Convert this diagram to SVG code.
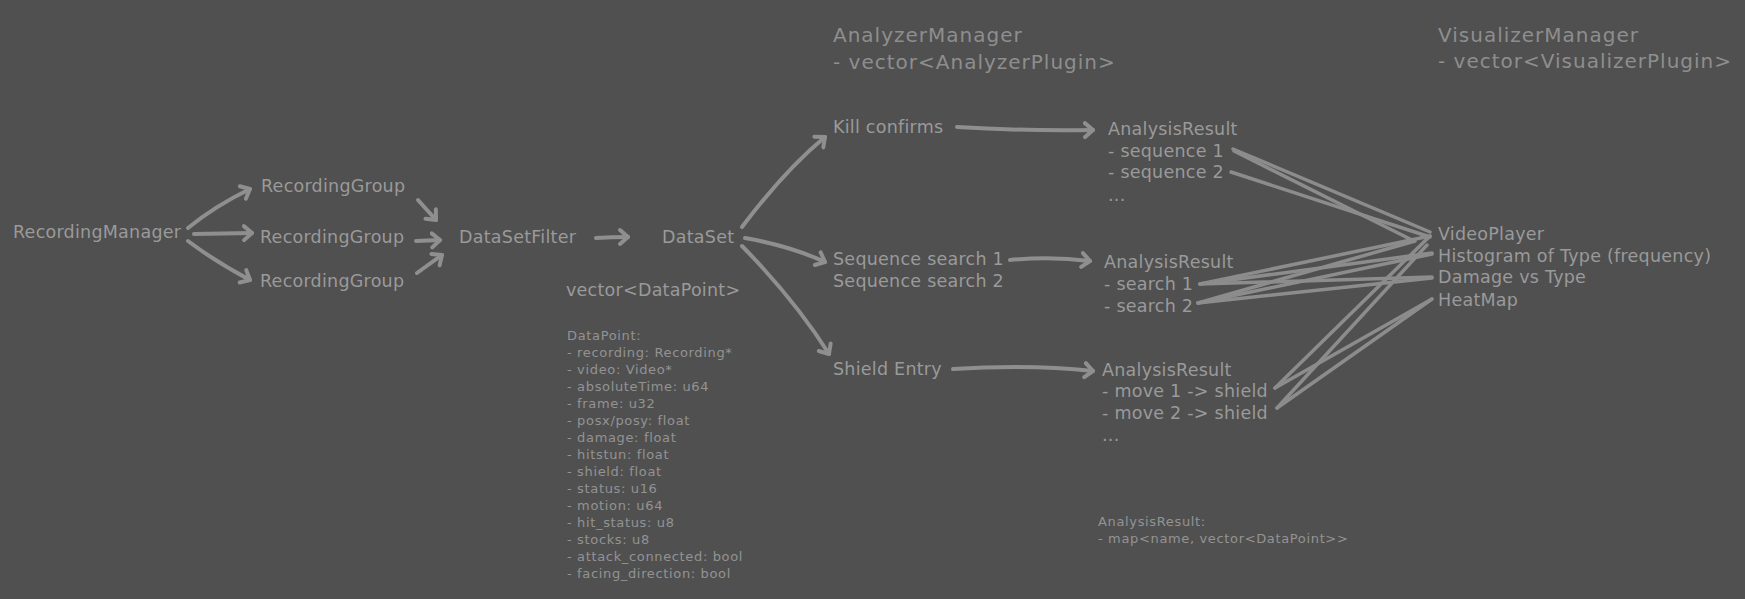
<svg xmlns="http://www.w3.org/2000/svg" width="1745" height="599" viewBox="0 0 1745 599">
<defs>
<marker id="ah" markerUnits="userSpaceOnUse" markerWidth="20" markerHeight="20" refX="10" refY="10" orient="auto" viewBox="0 0 20 20">
<path d="M2,3 L10,10 L2,17" fill="none" stroke="#8f8f8f" stroke-width="4" stroke-linecap="round" stroke-linejoin="round"/>
</marker>
<style>
text{font-family:"DejaVu Sans","Verdana",sans-serif;fill:#9a9a9a}
.n{font-size:17.5px;letter-spacing:0.25px}
.h{font-size:20px;fill:#8e8e8e;letter-spacing:1px}
.s{font-size:13px;fill:#939393;letter-spacing:0.65px}
.c path{fill:none;stroke:#8f8f8f;stroke-width:4;stroke-linecap:round;stroke-linejoin:round}
.c .a{marker-end:url(#ah)}
.c .v{stroke-width:3.5;stroke:#8c8c8c}
</style>
</defs>
<rect width="1745" height="599" fill="#505050"/>
<g class="c" id="connectors">
<path class="a" d="M188,228 Q215,206 250,189"/>
<path class="a" d="M194,234 L252,233"/>
<path class="a" d="M188,241 Q216,262 250,280"/>
<path class="a" d="M418,200 L436,220"/>
<path class="a" d="M416,241 L440,240"/>
<path class="a" d="M417,273 L442,255"/>
<path class="a" d="M596,238 Q612,237 628,237"/>
<path class="a" d="M742,227 Q785,170 825,137"/>
<path class="a" d="M745,238 Q790,246 825,262"/>
<path class="a" d="M742,246 Q795,300 829,354"/>
<path class="a" d="M957,127 Q1020,131 1093,130"/>
<path class="a" d="M1010,260 Q1050,256 1090,261"/>
<path class="a" d="M953,369 Q1030,364 1093,371"/>
<path class="v" d="M1233,149 L1430,232"/>
<path class="v" d="M1234,151 L1412,240"/>
<path class="v" d="M1231,172 L1430,237"/>
<path class="v" d="M1200,284 L1430,236"/>
<path class="v" d="M1200,284 L1432,253"/>
<path class="v" d="M1200,284 L1432,277"/>
<path class="v" d="M1198,303 L1415,241"/>
<path class="v" d="M1198,303 L1432,254"/>
<path class="v" d="M1198,303 L1432,278"/>
<path class="v" d="M1275,388 L1430,236"/>
<path class="v" d="M1275,388 L1432,299"/>
<path class="v" d="M1277,408 L1427,245"/>
<path class="v" d="M1277,408 L1432,299"/>
</g>
<g id="recordingManager"><text class="n" x="13" y="238">RecordingManager</text></g>
<g id="recordingGroup1"><text class="n" x="261" y="192">RecordingGroup</text></g>
<g id="recordingGroup2"><text class="n" x="260" y="243">RecordingGroup</text></g>
<g id="recordingGroup3"><text class="n" x="260" y="287">RecordingGroup</text></g>
<g id="dataSetFilter"><text class="n" x="459" y="243">DataSetFilter</text></g>
<g id="dataSet"><text class="n" x="662" y="243">DataSet</text>
<text class="n" x="566" y="296">vector&lt;DataPoint&gt;</text></g>
<g id="dataPointNote">
<text class="s" x="567" y="340">DataPoint:</text>
<text class="s" x="567" y="357">- recording: Recording*</text>
<text class="s" x="567" y="374">- video: Video*</text>
<text class="s" x="567" y="391">- absoluteTime: u64</text>
<text class="s" x="567" y="408">- frame: u32</text>
<text class="s" x="567" y="425">- posx/posy: float</text>
<text class="s" x="567" y="442">- damage: float</text>
<text class="s" x="567" y="459">- hitstun: float</text>
<text class="s" x="567" y="476">- shield: float</text>
<text class="s" x="567" y="493">- status: u16</text>
<text class="s" x="567" y="510">- motion: u64</text>
<text class="s" x="567" y="527">- hit_status: u8</text>
<text class="s" x="567" y="544">- stocks: u8</text>
<text class="s" x="567" y="561">- attack_connected: bool</text>
<text class="s" x="567" y="578">- facing_direction: bool</text>
</g>
<g id="analyzerManager">
<text class="h" x="833" y="42">AnalyzerManager</text>
<text class="h" x="833" y="69">- vector&lt;AnalyzerPlugin&gt;</text>
</g>
<g id="killConfirms"><text class="n" x="833" y="133">Kill confirms</text></g>
<g id="sequenceSearch"><text class="n" x="833" y="265">Sequence search 1</text>
<text class="n" x="833" y="287">Sequence search 2</text></g>
<g id="shieldEntry"><text class="n" x="833" y="375">Shield Entry</text></g>
<g id="analysisResult1">
<text class="n" x="1108" y="135">AnalysisResult</text>
<text class="n" x="1108" y="157">- sequence 1</text>
<text class="n" x="1108" y="178">- sequence 2</text>
<text class="n" x="1108" y="201">...</text>
</g>
<g id="analysisResult2">
<text class="n" x="1104" y="268">AnalysisResult</text>
<text class="n" x="1104" y="290">- search 1</text>
<text class="n" x="1104" y="312">- search 2</text>
</g>
<g id="analysisResult3">
<text class="n" x="1102" y="376">AnalysisResult</text>
<text class="n" x="1102" y="397">- move 1 -&gt; shield</text>
<text class="n" x="1102" y="419">- move 2 -&gt; shield</text>
<text class="n" x="1102" y="441">...</text>
</g>
<g id="analysisResultNote">
<text class="s" x="1098" y="526">AnalysisResult:</text>
<text class="s" x="1098" y="543">- map&lt;name, vector&lt;DataPoint&gt;&gt;</text>
</g>
<g id="visualizerManager">
<text class="h" x="1438" y="42">VisualizerManager</text>
<text class="h" x="1438" y="68">- vector&lt;VisualizerPlugin&gt;</text>
</g>
<g id="videoPlayer"><text class="n" x="1438" y="240">VideoPlayer</text></g>
<g id="histogram"><text class="n" x="1438" y="262">Histogram of Type (frequency)</text></g>
<g id="damageVsType"><text class="n" x="1438" y="283">Damage vs Type</text></g>
<g id="heatMap"><text class="n" x="1438" y="306">HeatMap</text></g>
</svg>
